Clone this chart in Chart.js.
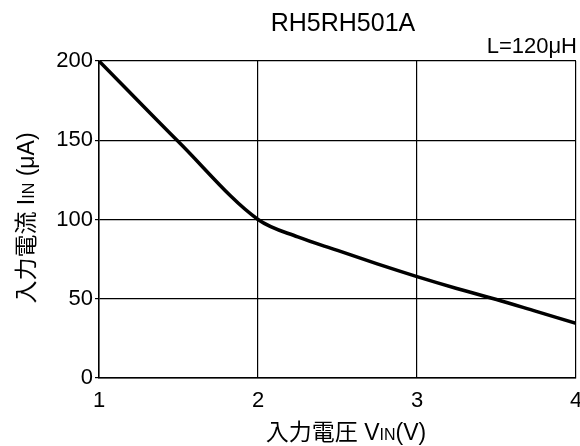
<!DOCTYPE html>
<html>
<head>
<meta charset="utf-8">
<script src="https://cdn.jsdelivr.net/npm/chart.js@4.4.1/dist/chart.umd.min.js"></script>
<style>
  html, body { margin: 0; padding: 0; background: #fff; overflow: hidden; }
  #wrap { width: 580px; height: 446px; }
</style>
</head>
<body>
<div id="wrap"><canvas id="grafico"></canvas></div>
<script>
// dados
const tensaoVin = [1, 1.5, 2, 2.25, 2.5, 2.75, 3, 3.25, 3.5, 3.75, 4];
const correnteIin = [200, 149, 100, 89, 80.5, 72, 64, 56.5, 49.5, 42, 34.5];
const ticksX = [1, 2, 3, 4];
const ticksY = [0, 50, 100, 150, 200];

const tituloGrafico = 'RH5RH501A';
const notaL = 'L=120μH';
const tituloX = [['入力電圧 V', 23], ['IN', 16], ['(V)', 23]];
const tituloY = [['入力電流 I', 23], ['IN', 16], [' (μA)', 23]];

const FONTE = '"Liberation Sans", Arial, "Noto Sans CJK JP", sans-serif';

function textoMisto(ctx, partes, cx, baseY) {
    let total = 0;
    partes.forEach(p => {
        ctx.font = p[1] + 'px ' + FONTE;
        total += ctx.measureText(p[0]).width;
    });
    let x = cx - total / 2;
    ctx.textAlign = 'left';
    ctx.textBaseline = 'alphabetic';
    partes.forEach(p => {
        ctx.font = p[1] + 'px ' + FONTE;
        ctx.fillText(p[0], x, baseY);
        x += ctx.measureText(p[0]).width;
    });
}

const textos = {
    id: 'textos',
    afterDraw(chart) {
        const ctx = chart.ctx;
        ctx.save();
        ctx.fillStyle = '#000';

        ctx.font = '25px ' + FONTE;
        ctx.textAlign = 'center';
        ctx.textBaseline = 'alphabetic';
        ctx.fillText(tituloGrafico, 343, 31);

        ctx.font = '22px ' + FONTE;
        ctx.textAlign = 'right';
        ctx.fillText(notaL, 577, 53);

        textoMisto(ctx, tituloX, 346, 440);

        ctx.translate(26, 218);
        ctx.rotate(-Math.PI / 2);
        textoMisto(ctx, tituloY, 0, 8);
        ctx.restore();
    }
};

new Chart(document.getElementById('grafico'), {
    type: 'line',
    data: {
        datasets: [{
            data: tensaoVin.map((v, i) => ({ x: v, y: correnteIin[i] })),
            borderColor: '#000',
            borderWidth: 3.5,
            pointRadius: 0,
            cubicInterpolationMode: 'monotone',
            fill: false
        }]
    },
    options: {
        responsive: true,
        maintainAspectRatio: false,
        animation: false,
        layout: { padding: { top: 61, right: 4, bottom: 0, left: 0 } },
        plugins: { legend: { display: false }, tooltip: { enabled: false } },
        scales: {
            x: {
                type: 'linear',
                min: 1, max: 4,
                afterFit: s => { s.height = 68; s.paddingRight = 0; s.paddingLeft = 0; },
                afterBuildTicks: s => { s.ticks = ticksX.map(v => ({ value: v })); },
                ticks: { color: '#000', font: { size: 22, family: FONTE }, padding: 10, maxRotation: 0 },
                grid: { color: '#000', lineWidth: 1.2, drawTicks: false },
                border: { color: '#000', width: 1.5 }
            },
            y: {
                min: 0, max: 200,
                afterFit: s => { s.width = 99; s.paddingTop = 0; s.paddingBottom = 0; },
                afterBuildTicks: s => { s.ticks = ticksY.map(v => ({ value: v })); },
                ticks: { color: '#000', font: { size: 22, family: FONTE }, padding: 2 },
                grid: { color: '#000', lineWidth: 1.2, tickLength: 4 },
                border: { color: '#000', width: 1.5 }
            }
        }
    },
    plugins: [textos]
});
</script>
</body>
</html>
